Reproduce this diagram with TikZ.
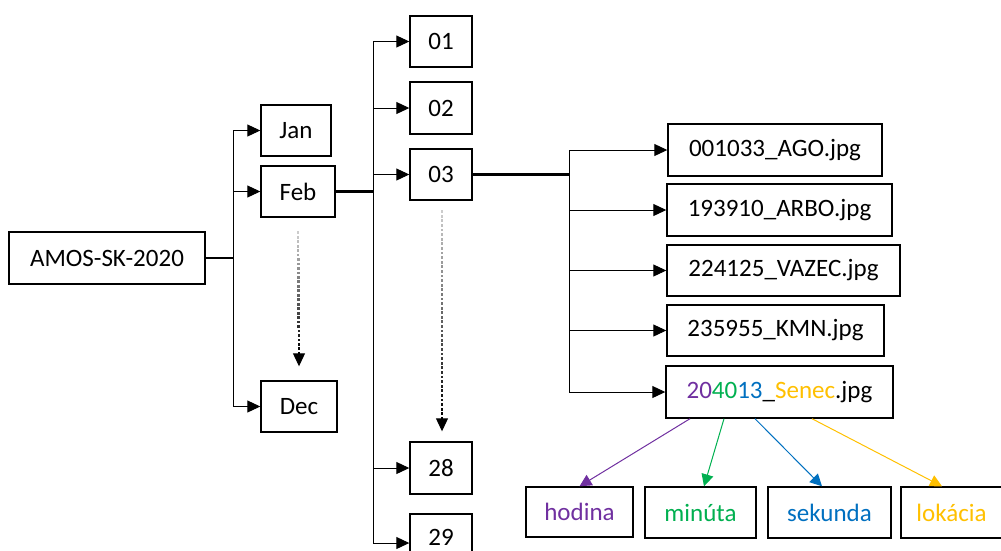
\documentclass[tikz,border=0pt]{standalone}
\usepackage{fontspec}
\setmainfont{Carlito}
\usetikzlibrary{arrows.meta,calc}

\definecolor{hpurple}{HTML}{7030A0}
\definecolor{hgreen}{HTML}{00B050}
\definecolor{hblue}{HTML}{0070C0}
\definecolor{hgold}{HTML}{FFC000}

% dotted arrow that darkens from light grey to black
% #1 start coordinate, #2 end coordinate (tip), #3 number of dots
\newcommand\fadedarrow[3]{%
  \coordinate (fa-base) at ($(#2)+(0,-13)$);
  \foreach \i in {0,...,#3} {
    \pgfmathsetmacro\t{\i/#3}
    \pgfmathtruncatemacro\c{20+80*\i/#3}
    \fill[black!\c] ($(#1)!\t!(fa-base)$) ++(-1.3,-1.4) rectangle ++(2.6,2.8);
  }
  \draw[line width=1pt,-{Triangle[length=13pt,width=12pt]}] (fa-base) -- (#2);
}

\begin{document}
\begin{tikzpicture}[x=1pt,y=-1pt,
  box/.style={draw=black, line width=1.4pt, fill=white, inner sep=0pt,
              font=\fontsize{25}{30}\selectfont},
  trunk/.style={line width=2.2pt},
  branch/.style={line width=1pt, -{Triangle[length=13pt,width=12pt]}},
  tag/.style={line width=1pt, -{Triangle[length=12pt,width=12pt]}},
]
\useasboundingbox (0,0) rectangle (1001,550);
\clip (0,0) rectangle (1001,550);

% year, months
\node[box, minimum width=196pt, minimum height=52pt] (amos) at (107,258) {AMOS-SK-2020};
\node[box, minimum width=70pt, minimum height=51pt] (jan) at (296,130.5) {Jan};
\node[box, minimum width=74pt, minimum height=51pt] (feb) at (298,191.5) {Feb};
\node[box, minimum width=76pt, minimum height=51pt] (dec) at (299,406.5) {Dec};

% days
\node[box, minimum width=62pt, minimum height=51pt] (d01) at (441,41.5) {01};
\node[box, minimum width=62pt, minimum height=52pt] (d02) at (441,108) {02};
\node[box, minimum width=62pt, minimum height=51pt] (d03) at (441,174.5) {03};
\node[box, minimum width=62pt, minimum height=52pt] (d28) at (441,468) {28};
\node[box, minimum width=62pt, minimum height=46pt] (d29) at (441,537) {29};

% files
\node[box, minimum width=214pt, minimum height=52pt] (f1) at (775,150) {001033\_AGO.jpg};
\node[box, minimum width=225pt, minimum height=52pt] (f2) at (779.5,210) {193910\_ARBO.jpg};
\node[box, minimum width=233pt, minimum height=51pt] (f3) at (783.5,270.5) {224125\_VAZEC.jpg};
\node[box, minimum width=217pt, minimum height=51pt] (f4) at (775.5,330.5) {235955\_KMN.jpg};
\node[box, minimum width=227pt, minimum height=52pt] (senec) at (779.5,392)
  {{\color{hpurple}20}{\color{hgreen}40}{\color{hblue}13}\_{\color{hgold}Senec}.jpg};

% parts of the file name
\node[box, minimum width=107pt, minimum height=50pt, text=hpurple] (hodina) at (579.5,512) {hodina};
\node[box, minimum width=111pt, minimum height=51pt, text=hgreen] (minuta) at (700.5,512.5) {minúta};
\node[box, minimum width=123pt, minimum height=51pt, text=hblue] (sekunda) at (829.5,512.5) {sekunda};
\node[box, minimum width=101pt, minimum height=51pt, text=hgold] (lokacia) at (951.5,512.5) {lokácia};

% year -> months
\coordinate (ja) at ($(amos.east)+(28,0)$);
\draw[trunk] (amos.east) -- (ja);
\draw[branch] (ja) |- (jan.west);
\draw[branch] (ja) |- (feb.west);
\draw[branch] (ja) |- (dec.west);

% month -> days
\coordinate (jd) at ($(feb.east)+(38,0)$);
\draw[trunk] (feb.east) -- (jd);
\draw[branch] (jd) |- (d01.west);
\draw[branch] (jd) |- (d02.west);
\draw[branch] (jd) |- (d03.west);
\draw[branch] (jd) |- (d28.west);
\draw[branch] (jd) |- ([yshift=-6pt]d29.west);

% day -> files
\coordinate (jf) at ($(d03.east)+(97,0)$);
\draw[trunk] (d03.east) -- (jf);
\draw[branch] (jf) |- (f1.west);
\draw[branch] (jf) |- (f2.west);
\draw[branch] (jf) |- (f3.west);
\draw[branch] (jf) |- (f4.west);
\draw[branch] (jf) |- (senec.west);

% omitted months and days
\coordinate (m-s) at ($(feb.south)+(0,15)$);
\coordinate (m-e) at ($(dec.north)+(0,-14)$);
\fadedarrow{m-s}{m-e}{27}
\coordinate (dd-s) at ($(d03.south)+(1,11)$);
\coordinate (dd-e) at ($(d28.north)+(1,-10)$);
\fadedarrow{dd-s}{dd-e}{45}

% file name parts
\draw[tag, hpurple] ([xshift=-89.5pt]senec.south) -- (hodina.north);
\draw[tag, hgreen]  ([xshift=-55.5pt]senec.south) -- ([xshift=3.5pt]minuta.north);
\draw[tag, hblue]   ([xshift=-24.5pt]senec.south) -- ([xshift=-7.5pt]sekunda.north);
\draw[tag, hgold]   ([xshift=32.5pt]senec.south) -- ([xshift=-9.5pt]lokacia.north);
\end{tikzpicture}
\end{document}
